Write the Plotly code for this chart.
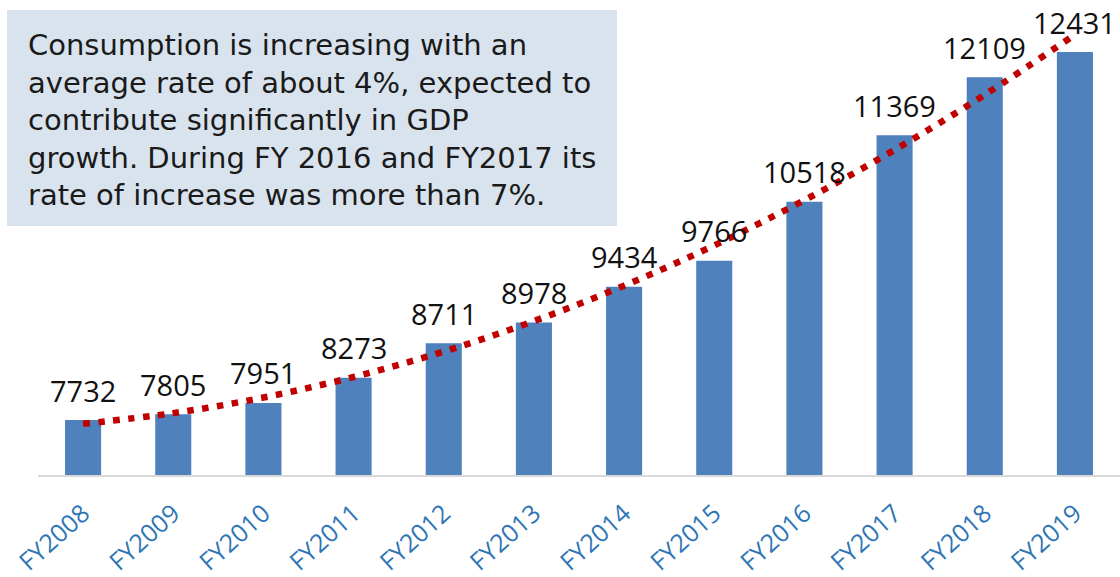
import numpy as np
import plotly.graph_objects as go

# Annual consumption by fiscal year
years = ["FY2008", "FY2009", "FY2010", "FY2011", "FY2012", "FY2013",
         "FY2014", "FY2015", "FY2016", "FY2017", "FY2018", "FY2019"]
consumption = [7732, 7805, 7951, 8273, 8711, 8978,
               9434, 9766, 10518, 11369, 12109, 12431]

note_lines = [
    "Consumption is increasing with an",
    "average rate of about 4%, expected to",
    "contribute significantly in GDP",
    "growth. During FY 2016 and FY2017 its",
    "rate of increase was more than 7%.",
]

FONT = "Open Sans"
NOTE_FONT = "DejaVu Sans"
BAR_BLUE = "#4f81bd"
TREND_RED = "#c00000"
TICK_BLUE = "#2e75b6"

# Second-order polynomial trend through the yearly values
idx = np.arange(len(consumption))
coef = np.polyfit(idx, consumption, 2)
trend = np.polyval(coef, idx)

fig = go.Figure()
fig.add_trace(go.Bar(
    x=years, y=consumption, width=0.4,
    marker=dict(color=BAR_BLUE, line=dict(width=0)),
    hoverinfo="x+y", showlegend=False,
))
fig.add_trace(go.Scatter(
    x=years, y=trend, mode="lines",
    line=dict(color=TREND_RED, width=6.5, dash="6.5px,8.5px", shape="spline"),
    hoverinfo="skip", showlegend=False,
))

# Value labels above each bar
for yr, v in zip(years, consumption):
    fig.add_annotation(
        x=yr, y=v, xref="x", yref="y", text=str(v), showarrow=False,
        yanchor="middle", yshift=30,
        font=dict(family=FONT, size=29, color="#111111"),
    )

# Note box in the upper left
PLOT_L, PLOT_W, PLOT_H = 38, 1082, 475


def px_x(p):
    return (p - PLOT_L) / PLOT_W


def px_y(p):
    return (PLOT_H - p) / PLOT_H


fig.add_shape(
    type="rect", xref="paper", yref="paper",
    x0=px_x(7), x1=px_x(617), y0=px_y(226), y1=px_y(10),
    fillcolor="#d9e3ee", line=dict(width=0), layer="below",
)
line_centres = [45, 83, 120, 158, 195]
for txt, yc in zip(note_lines, line_centres):
    fig.add_annotation(
        x=px_x(26), y=px_y(yc), xref="paper", yref="paper",
        xanchor="left", yanchor="middle", text=txt, showarrow=False,
        font=dict(family=NOTE_FONT, size=29, color="#1a1a1a"),
    )

fig.update_layout(
    width=1120, height=577,
    margin=dict(l=PLOT_L, r=0, t=0, b=102),
    paper_bgcolor="white", plot_bgcolor="white",
    bargap=0.6,
    xaxis=dict(
        type="category", range=[-0.5, 11.5], automargin=False,
        showline=True, linecolor="#d9d9d9", linewidth=2,
        showgrid=False, zeroline=False,
        tickangle=-42, ticks="outside", ticklen=12, tickcolor="rgba(0,0,0,0)",
        tickfont=dict(family=FONT, size=25, color=TICK_BLUE),
    ),
    yaxis=dict(range=[7030, 13096], visible=False, automargin=False),
)

fig.write_html("out.html")
